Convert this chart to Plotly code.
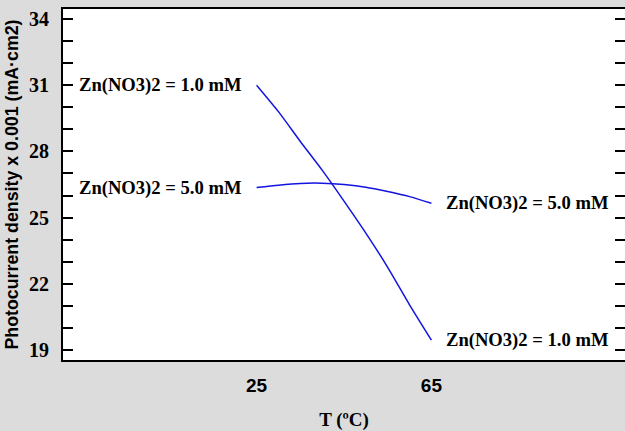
import plotly.graph_objects as go

temps = [25, 30, 35, 40, 45, 50, 55, 60, 65]
y_1mM = [31.0, 29.8, 28.45, 27.15, 25.75, 24.3, 22.75, 21.05, 19.45]
y_5mM = [26.36, 26.47, 26.55, 26.56, 26.5, 26.38, 26.18, 25.95, 25.65]
labels = ["Zn(NO3)2 = 1.0 mM", "Zn(NO3)2 = 5.0 mM"]
x_ticks = [25, 65]
y_ticks = [19, 22, 25, 28, 31, 34]

series = [y_1mM, y_5mM]
blue = "#1414e0"
serif = "Liberation Serif"

fig = go.Figure()
for ys, lab in zip(series, labels):
    fig.add_trace(go.Scatter(x=temps, y=ys, mode="lines",
                             line=dict(color=blue, width=1.5, shape="spline", smoothing=0.6),
                             name=lab, showlegend=False, hoverinfo="skip"))
# invisible trace for the right mirrored tick axis
fig.add_trace(go.Scatter(x=[temps[0]], y=[y_1mM[0]], yaxis="y2", mode="markers",
                         marker=dict(opacity=0), showlegend=False, hoverinfo="skip"))

anns = []
for ys, lab in zip(series, labels):
    anns.append(dict(x=temps[0], y=ys[0], text=lab, showarrow=False,
                     xanchor="right", xshift=-13, yanchor="middle",
                     font=dict(family=serif, size=18.6, color="black", weight="bold")))
    anns.append(dict(x=temps[-1], y=ys[-1], text=lab, showarrow=False,
                     xanchor="left", xshift=13, yanchor="middle",
                     font=dict(family=serif, size=18.6, color="black", weight="bold")))

fig.update_layout(
    width=625, height=431,
    margin=dict(l=63, r=0, t=9, b=71),
    paper_bgcolor="#dcdcdc", plot_bgcolor="white",
    annotations=anns,
    xaxis=dict(range=[-19.3, 109.3], tickvals=x_ticks, ticktext=[str(v) for v in x_ticks],
               ticks="", showgrid=False, zeroline=False,
               showline=True, linecolor="black", linewidth=2, mirror=True,
               tickfont=dict(family="Liberation Sans", size=19, color="black", weight="bold"),
               ticklabelstandoff=7,
               title=dict(text="T (ºC)", font=dict(family=serif, size=19, color="black", weight="bold"),
                          standoff=21)),
    yaxis=dict(range=[18.55, 34.45], tickvals=y_ticks, ticks="inside", ticklen=10,
               tickwidth=2, tickcolor="black",
               minor=dict(dtick=1, tick0=19, ticks="inside", ticklen=10, tickwidth=2, tickcolor="black"),
               showgrid=False, zeroline=False,
               showline=True, linecolor="black", linewidth=2,
               tickfont=dict(family=serif, size=20, color="black", weight="bold"),
               ticklabelstandoff=8,
               title=dict(text="Photocurrent density x 0.001 (mA·cm2)",
                          font=dict(family="Liberation Sans", size=17.8, color="black", weight="bold"),
                          standoff=6)),
    yaxis2=dict(overlaying="y", side="right", matches="y", range=[18.55, 34.45],
                tickvals=y_ticks, ticks="inside", ticklen=10, tickwidth=2, tickcolor="black",
                minor=dict(dtick=1, tick0=19, ticks="inside", ticklen=10, tickwidth=2, tickcolor="black"),
                showticklabels=False, showgrid=False, zeroline=False, showline=False),
)

fig.write_html("out.html")
